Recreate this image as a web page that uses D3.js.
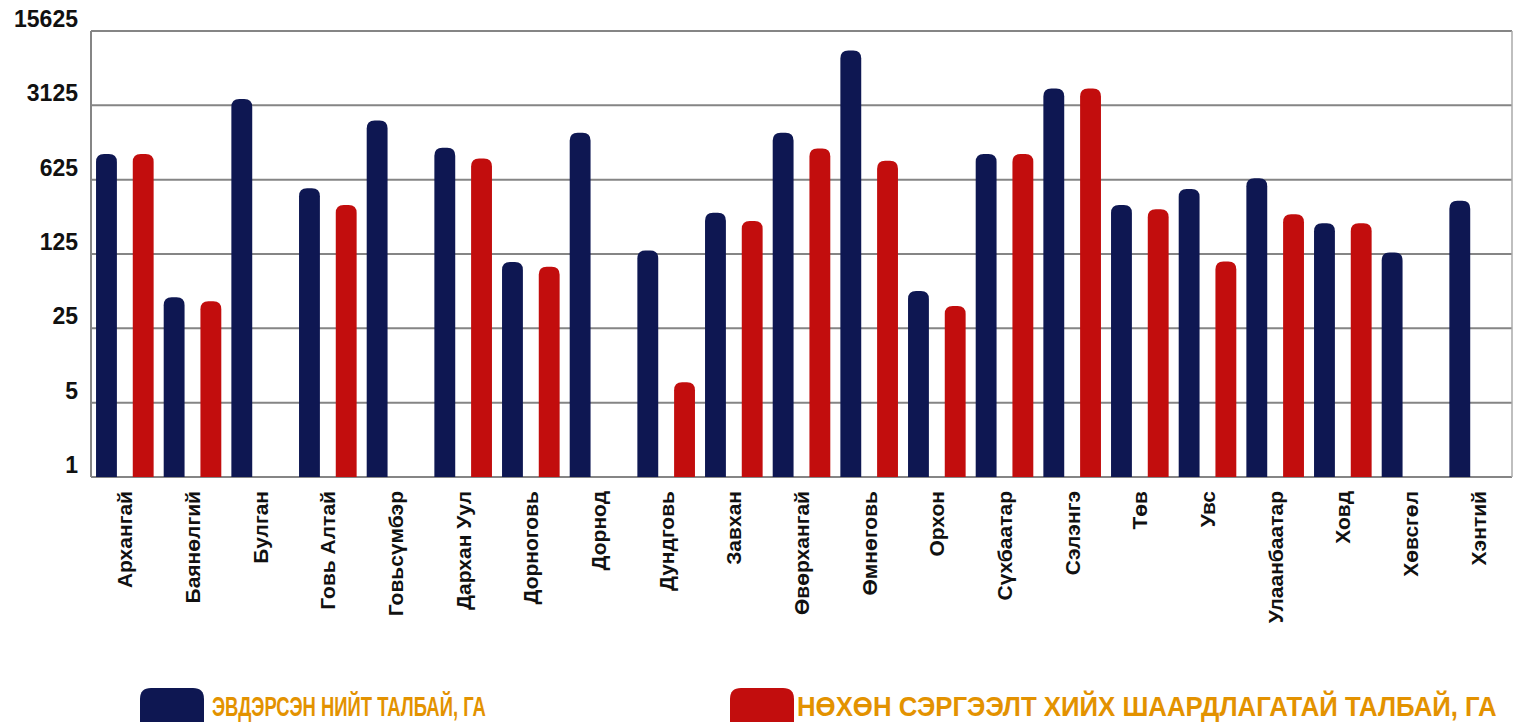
<!DOCTYPE html>
<html>
<head>
<meta charset="utf-8">
<script src="https://cdn.jsdelivr.net/npm/d3@7"></script>
<style>
  html, body { margin: 0; padding: 0; background: #ffffff; }
  svg { display: block; }
</style>
</head>
<body>
<svg id="chart" width="1518" height="728"></svg>
<script>
// ---- data ----
const categories = ["Архангай", "Баянөлгий", "Булган", "Говь Алтай", "Говьсүмбэр", "Дархан Уул",
  "Дорноговь", "Дорнод", "Дундговь", "Завхан", "Өвөрхангай", "Өмнөговь", "Орхон", "Сүхбаатар",
  "Сэлэнгэ", "Төв", "Увс", "Улаанбаатар", "Ховд", "Хөвсгөл", "Хэнтий"];
const damagedArea = [1090, 49, 3590, 520, 2245, 1245, 105, 1730, 135, 306, 1730, 10260, 56, 1090, 4500, 361, 511, 645, 243, 129, 395];
const restoreArea = [1090, 45, null, 361, null, 988, 95, null, 7.8, 256, 1229, 940, 40.6, 1090, 4500, 330, 106, 296, 243, null, null];
const tickValues = [1, 5, 25, 125, 625, 3125, 15625];
const seriesNames = ["ЭВДЭРСЭН НИЙТ ТАЛБАЙ, ГА", "НӨХӨН СЭРГЭЭЛТ ХИЙХ ШААРДЛАГАТАЙ ТАЛБАЙ, ГА"];
const seriesColors = ["#0e1752", "#c20d0d"];

// ---- layout ----
const svg = d3.select("#chart");
const plot = { left: 91, right: 1512, top: 31, bottom: 477 };

const x0 = d3.scaleBand().domain(categories).range([plot.left, plot.right]).paddingInner(0).paddingOuter(0);
const x1 = d3.scaleBand().domain([0, 1]).range([0, x0.bandwidth()]).paddingInner(0.432).paddingOuter(0.137);
const y = d3.scaleLog().base(5).domain([1, 15625]).range([plot.bottom, plot.top]);

const gridColor = "#858585";

// gridlines
svg.append("g").selectAll("line").data(tickValues).join("line")
  .attr("x1", plot.left).attr("x2", plot.right)
  .attr("y1", d => y(d)).attr("y2", d => y(d))
  .attr("stroke", gridColor).attr("stroke-width", 2);

// frame sides
svg.append("line").attr("x1", plot.left).attr("x2", plot.left).attr("y1", plot.top).attr("y2", plot.bottom)
  .attr("stroke", gridColor).attr("stroke-width", 2);
svg.append("line").attr("x1", plot.right).attr("x2", plot.right).attr("y1", plot.top).attr("y2", plot.bottom)
  .attr("stroke", "#aaaaaa").attr("stroke-width", 1.5);

// y tick labels
svg.append("g").selectAll("text").data(tickValues).join("text")
  .attr("x", 78).attr("y", d => y(d) - 4)
  .attr("text-anchor", "end")
  .attr("font-family", "'Liberation Sans', Arial, Helvetica, sans-serif")
  .attr("font-weight", "bold").attr("font-size", 23)
  .attr("fill", "#111")
  .text(d => d);

// rounded-top bar path
function barPath(xl, w, yt, yb, r) {
  r = Math.min(r, w / 2, (yb - yt));
  return `M${xl},${yb} L${xl},${yt + r} Q${xl},${yt} ${xl + r},${yt} L${xl + w - r},${yt} Q${xl + w},${yt} ${xl + w},${yt + r} L${xl + w},${yb} Z`;
}

const series = [damagedArea, restoreArea];
series.forEach((vals, si) => {
  svg.append("g").selectAll("path").data(categories.map((c, i) => ({ c, v: vals[i] })).filter(d => d.v != null))
    .join("path")
    .attr("d", d => barPath(x0(d.c) + x1(si), x1.bandwidth(), y(d.v), y(1), 8))
    .attr("fill", seriesColors[si]);
});

// x labels
svg.append("g").selectAll("text").data(categories).join("text")
  .attr("transform", d => `translate(${x0(d) + x0.bandwidth() / 2},491) rotate(-90)`)
  .attr("text-anchor", "end")
  .attr("dy", "0.36em")
  .attr("font-family", "'Liberation Sans', Arial, Helvetica, sans-serif")
  .attr("font-weight", "bold").attr("font-size", 21)
  .attr("fill", "#111")
  .text(d => d);

// legend
const legend = [
  { x: 140, tx: 212, tw: 274 },
  { x: 730, tx: 797, tw: 700 }
];
legend.forEach((l, i) => {
  svg.append("path")
    .attr("d", barPath(l.x, 64, 688, 722, 11))
    .attr("fill", seriesColors[i]);
  const t = svg.append("text")
    .attr("x", 0).attr("y", 0)
    .attr("font-family", "'Liberation Sans Narrow', 'Arial Narrow', 'Liberation Sans', Arial, sans-serif")
    .attr("font-weight", "bold").attr("font-size", 27)
    .attr("fill", "#e39200")
    .text(seriesNames[i]);
  const natural = t.node().getComputedTextLength();
  t.attr("transform", `translate(${l.tx},716) scale(${l.tw / natural},1)`);
});
</script>
</body>
</html>
